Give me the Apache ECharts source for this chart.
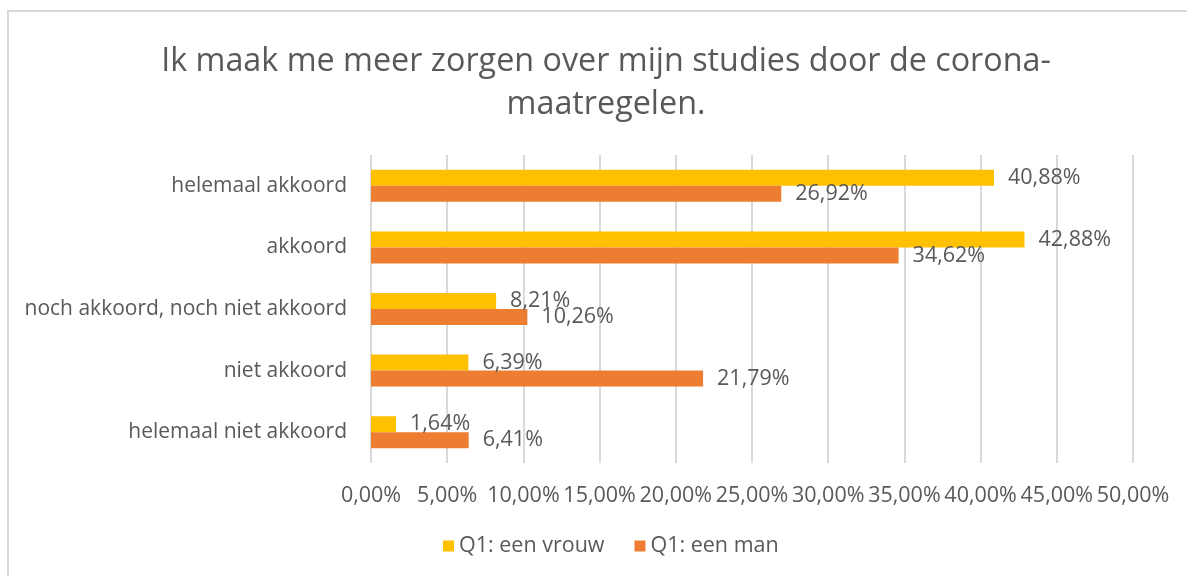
<!DOCTYPE html>
<html>
<head>
<meta charset="utf-8">
<script src="https://cdn.jsdelivr.net/npm/echarts@6/dist/echarts.min.js"></script>
<style>
  html, body { margin: 0; padding: 0; background: #fff; overflow: hidden; }
  #frame { position: absolute; left: 7px; top: 10px; width: 1300px; height: 700px; border: 2px solid #d9d9d9; box-sizing: border-box; }
  #main { position: absolute; left: 0; top: 0; width: 1187px; height: 576px; }
</style>
</head>
<body>
<div id="frame"></div>
<div id="main"></div>
<script>
// antwoorden (van boven naar beneden)
const categories = ['helemaal akkoord', 'akkoord', 'noch akkoord, noch niet akkoord', 'niet akkoord', 'helemaal niet akkoord']
const vrouw = [40.88, 42.88, 8.21, 6.39, 1.64]
const man = [26.92, 34.62, 10.26, 21.79, 6.41]
const xTicks = [0, 5, 10, 15, 20, 25, 30, 35, 40, 45, 50]

const font = 'Open Sans'
const grey = '#595959'
const pct = (v) => v.toFixed(2).replace('.', ',') + '%'

let chart = echarts.init(document.getElementById('main'), null, { renderer: 'canvas' })

chart.setOption({
  animation: false,
  title: {
    text: 'Ik maak me meer zorgen over mijn studies door de corona-\nmaatregelen.',
    left: 601,
    top: 35,
    textAlign: 'center',
    textStyle: { fontFamily: font, fontSize: 32.3, fontWeight: 'normal', color: grey, lineHeight: 43 }
  },
  legend: {
    bottom: 14,
    left: 438,
    icon: 'rect',
    itemWidth: 11,
    itemHeight: 11,
    itemGap: 30,
    textStyle: { fontFamily: font, fontSize: 21.5, color: grey },
    data: ['Q1: een vrouw', 'Q1: een man']
  },
  grid: { left: 371, right: 54, top: 155, bottom: 113 },
  xAxis: {
    type: 'value',
    min: xTicks[0],
    max: xTicks[xTicks.length - 1],
    interval: 5,
    axisLine: { show: false },
    axisTick: { show: false },
    splitLine: { lineStyle: { color: '#d9d9d9', width: 2 } },
    axisLabel: { fontFamily: font, fontSize: 21.5, color: grey, margin: 22, formatter: pct }
  },
  yAxis: {
    type: 'category',
    inverse: true,
    data: categories,
    axisLine: { show: false },
    axisTick: { show: false },
    axisLabel: { fontFamily: font, fontSize: 21, color: grey, margin: 24 }
  },
  series: [
    {
      name: 'Q1: een vrouw',
      type: 'bar',
      data: vrouw,
      barWidth: 16,
      barGap: '0%',
      itemStyle: { color: '#ffc000' },
      label: { show: true, position: 'right', distance: 14, fontFamily: font, fontSize: 21.5, color: grey, formatter: (p) => pct(p.value) }
    },
    {
      name: 'Q1: een man',
      type: 'bar',
      data: man,
      barWidth: 16,
      itemStyle: { color: '#ed7d31' },
      label: { show: true, position: 'right', distance: 14, fontFamily: font, fontSize: 21.5, color: grey, formatter: (p) => pct(p.value) }
    }
  ]
})
</script>
</body>
</html>
